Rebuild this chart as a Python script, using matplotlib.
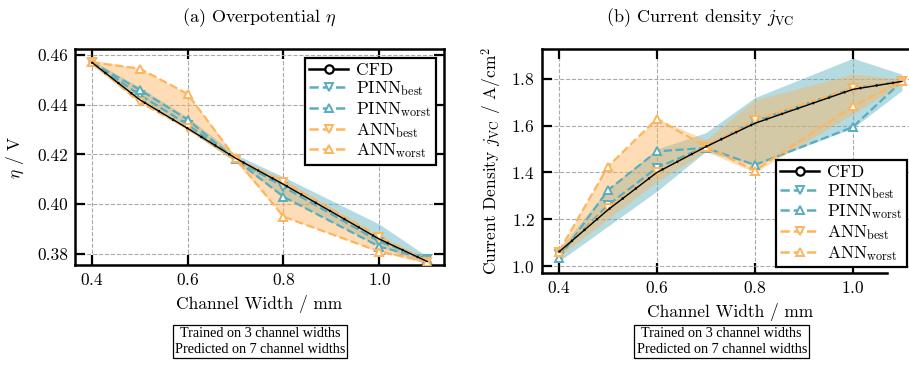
import numpy as np
import matplotlib
matplotlib.use('Agg')
import matplotlib.pyplot as plt
from matplotlib.lines import Line2D

plt.rcParams['font.family'] = 'serif'
plt.rcParams['font.serif'] = ['cmr10']
plt.rcParams['mathtext.fontset'] = 'cm'
plt.rcParams['axes.formatter.use_mathtext'] = True
plt.rcParams['axes.unicode_minus'] = False

# channel widths (mm)
width = [0.4, 0.5, 0.6, 0.7, 0.8, 1.0, 1.1]

# (a) overpotential eta / V
eta_cfd = [0.457, 0.442, 0.4305, 0.4185, 0.408, 0.386, 0.377]
eta_pinn_best = [0.457, 0.444, 0.432, 0.418, 0.407, 0.385, 0.378]
eta_pinn_worst = [0.457, 0.446, 0.434, 0.418, 0.403, 0.383, 0.378]
eta_ann_best = [0.457, 0.441, 0.4305, 0.418, 0.409, 0.387, 0.377]
eta_ann_worst = [0.457, 0.4545, 0.4443, 0.4185, 0.395, 0.381, 0.377]
eta_pinn_lo = [0.456, 0.442, 0.430, 0.417, 0.403, 0.383, 0.376]
eta_pinn_hi = [0.458, 0.447, 0.435, 0.420, 0.411, 0.392, 0.379]
eta_ann_lo = [0.456, 0.441, 0.430, 0.417, 0.395, 0.381, 0.376]
eta_ann_hi = [0.458, 0.4545, 0.4445, 0.419, 0.410, 0.387, 0.378]

# (b) current density j_VC / A/cm2
j_cfd = [1.06, 1.24, 1.40, 1.51, 1.61, 1.755, 1.789]
j_pinn_best = [1.05, 1.26, 1.42, 1.51, 1.62, 1.76, 1.789]
j_pinn_worst = [1.034, 1.324, 1.49, 1.505, 1.432, 1.594, 1.789]
j_ann_best = [1.06, 1.247, 1.40, 1.51, 1.625, 1.76, 1.789]
j_ann_worst = [1.061, 1.425, 1.629, 1.51, 1.408, 1.683, 1.789]
j_pinn_lo = [1.02, 1.17, 1.32, 1.49, 1.43, 1.59, 1.75]
j_pinn_hi = [1.07, 1.33, 1.50, 1.57, 1.72, 1.888, 1.82]
j_ann_lo = [1.04, 1.20, 1.36, 1.49, 1.40, 1.65, 1.78]
j_ann_hi = [1.07, 1.43, 1.63, 1.54, 1.71, 1.82, 1.80]

teal = '#5aadbf'
orange = '#fdb55e'

fig = plt.figure(figsize=(9.09, 3.65), dpi=100)
ax1 = fig.add_axes([0.0825, 0.274, 0.406, 0.592])
ax2 = fig.add_axes([0.596, 0.252, 0.415, 0.614])


def draw(ax, cfd, pb, pw, ab, aw, plo, phi, alo, ahi):
    ax.fill_between(width, plo, phi, color=teal, alpha=0.45, lw=0, zorder=1)
    ax.fill_between(width, alo, ahi, color=orange, alpha=0.45, lw=0, zorder=1)
    ax.plot(width, pb, '--', color=teal, lw=1.6, marker='v', ms=6, mfc='white', mew=1.4, zorder=3)
    ax.plot(width, pw, '--', color=teal, lw=1.6, marker='^', ms=6, mfc='white', mew=1.4, zorder=3)
    ax.plot(width, ab, '--', color=orange, lw=1.6, marker='v', ms=6, mfc='white', mew=1.4, zorder=3)
    ax.plot(width, aw, '--', color=orange, lw=1.6, marker='^', ms=6, mfc='white', mew=1.4, zorder=3)
    ax.plot(width, cfd, '-', color='k', lw=1.0, zorder=4)
    ax.plot(width, cfd, color='k', lw=1.8, ls=(0, (0.6, 6)), zorder=4)
    ax.grid(True, ls='--', color='#aaaaaa', lw=0.8)
    ax.set_axisbelow(True)
    ax.tick_params(direction='in', top=True, right=True, length=7, width=1.6, labelsize=12.5, pad=5)
    for s in ax.spines.values():
        s.set_linewidth(1.8)
    ax.set_xticks([0.4, 0.6, 0.8, 1.0])
    ax.set_xlim(0.365, 1.135)
    ax.set_xlabel('Channel Width / mm', fontsize=12.5, labelpad=5)


draw(ax1, eta_cfd, eta_pinn_best, eta_pinn_worst, eta_ann_best, eta_ann_worst,
     eta_pinn_lo, eta_pinn_hi, eta_ann_lo, eta_ann_hi)
draw(ax2, j_cfd, j_pinn_best, j_pinn_worst, j_ann_best, j_ann_worst,
     j_pinn_lo, j_pinn_hi, j_ann_lo, j_ann_hi)

ax1.set_ylim(0.3756, 0.4624)
ax1.set_yticks([0.38, 0.40, 0.42, 0.44, 0.46])
ax1.set_yticklabels(['0.38', '0.40', '0.42', '0.44', '0.46'])
ax1.set_ylabel(r'$\eta$ / V', fontsize=12.5, labelpad=8)
ax1.set_title(r'(a) Overpotential $\eta$', fontsize=13, pad=19)

ax2.set_ylim(0.970, 1.928)
ax2.set_yticks([1.0, 1.2, 1.4, 1.6, 1.8])
ax2.set_ylabel(r'Current Density $j_{\rm VC}$ / A/cm$^2$', fontsize=12.5, labelpad=5)
ax2.set_title(r'(b) Current density $j_{\rm VC}$', fontsize=13, pad=19, x=0.42)
ax2.spines['bottom'].set_bounds(0.365, 1.07)

handles = [
    Line2D([], [], color='k', lw=1.8, marker='o', ms=6, mfc='white', mew=1.6),
    Line2D([], [], color=teal, lw=1.8, ls='--', marker='v', ms=6, mfc='white', mew=1.4),
    Line2D([], [], color=teal, lw=1.8, ls='--', marker='^', ms=6, mfc='white', mew=1.4),
    Line2D([], [], color=orange, lw=1.8, ls='--', marker='v', ms=6, mfc='white', mew=1.4),
    Line2D([], [], color=orange, lw=1.8, ls='--', marker='^', ms=6, mfc='white', mew=1.4),
]
labels = ['CFD', r'PINN$_{\rm best}$', r'PINN$_{\rm worst}$', r'ANN$_{\rm best}$', r'ANN$_{\rm worst}$']

for ax, loc, anchor in [(ax1, 'upper right', (0.978, 0.958)), (ax2, 'lower right', (0.968, 0.027))]:
    leg = ax.legend(handles, labels, loc=loc, bbox_to_anchor=anchor, fontsize=12.5,
                    fancybox=False, framealpha=1, edgecolor='k', borderaxespad=0,
                    labelspacing=0.1, handlelength=2.2, handletextpad=0.5, borderpad=0.25)
    leg.get_frame().set_linewidth(1.6)
    leg.set_zorder(10)

note = 'Trained on 3 channel widths\nPredicted on 7 channel widths'
for xc in [0.286, 0.794]:
    fig.text(xc, 0.065, note, ha='center', va='center', fontsize=10.2, family='Liberation Serif',
             linespacing=1.3, bbox=dict(boxstyle='square,pad=0.15', fc='white', ec='k', lw=0.9))

fig.savefig('out.png', dpi=100)
